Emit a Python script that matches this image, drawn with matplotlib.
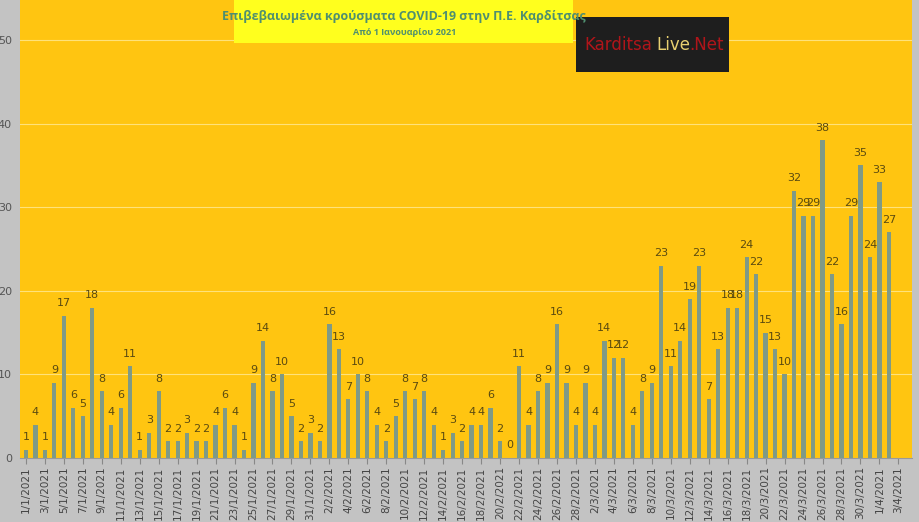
import matplotlib.pyplot as plt
import numpy as np
import pandas as pd

dates = pd.date_range('2021-01-01', '2021-04-03', freq='D')
labels = [f'{d.day}/{d.month}/{d.year}' for d in dates]

cases = [1, 4, 1, 9, 17, 6, 5, 18, 8, 4, 6, 11, 1, 3, 8, 2, 2, 3, 2, 2, 4, 6, 4, 1,
         9, 14, 8, 10, 5, 2, 3, 2, 16, 13, 7, 10, 8, 4, 2, 5, 8, 7, 8, 4, 1, 3,
         2, 4, 4, 6, 2, 0, 11, 4, 8, 9, 16, 9, 4, 9, 4, 14, 12, 12, 4, 8, 9, 23,
         11, 14, 19, 23, 7, 13, 18, 18, 24, 22, 15, 13, 10, 32, 29, 29, 38, 22, 16,
         29, 35, 24, 33, 27, np.nan]

fig = plt.figure(figsize=(9.19, 5.22), dpi=100)
fig.patch.set_facecolor('#c3c3c3')
ax = fig.add_axes([0.022, 0.1226, 0.970, 0.8774])
ax.set_facecolor('#ffc511')

x = np.arange(len(cases))
ax.bar(x, cases, width=0.45, color='#7f9a86', zorder=3)
for xi, v in zip(x, cases):
    if not np.isnan(v):
        ax.text(xi, v + 0.9, f'{int(v)}', ha='center', va='bottom', fontsize=8,
                color='#5a4a10', zorder=4)

ax.set_xlim(-0.6, 93.4)
ax.set_ylim(0, 54.8)
ax.set_yticks([0, 10, 20, 30, 40, 50])
ax.tick_params(axis='y', length=0, labelsize=8, colors='#555555', pad=6)
ax.grid(axis='y', color='#ffe27a', linewidth=0.8, zorder=1)
ax.set_xticks(x[::2])
ax.set_xticklabels(labels[::2], rotation=90, fontsize=7.5, color='#444444')
ax.tick_params(axis='x', length=4, color='#888888', pad=2)
for s in ['top', 'right', 'left']:
    ax.spines[s].set_visible(False)
ax.spines['bottom'].set_color('#999999')

# title box
fig.patches.append(plt.Rectangle((0.255, 0.918), 0.369, 0.082, transform=fig.transFigure,
                                 facecolor='#ffff1e', edgecolor='none', zorder=5))
fig.text(0.440, 0.968, 'Επιβεβαιωμένα κρούσματα COVID-19 στην Π.Ε. Καρδίτσας', ha='center',
         va='center', fontsize=9, fontweight='bold', color='#4f8f6f', zorder=6,
         family='Open Sans')
fig.text(0.440, 0.938, 'Από 1 Ιανουαρίου 2021', ha='center', va='center', fontsize=6.5,
         fontweight='bold', color='#4f8f6f', zorder=6, family='Open Sans')

# logo box
fig.patches.append(plt.Rectangle((0.627, 0.862), 0.166, 0.105, transform=fig.transFigure,
                                 facecolor='#1e1e1e', edgecolor='none', zorder=5))
fig.text(0.636, 0.913, 'Karditsa', ha='left', va='center', fontsize=12, color='#b0151a', zorder=6)
fig.text(0.714, 0.913, 'Live', ha='left', va='center', fontsize=12, color='#e8d070', zorder=6)
fig.text(0.750, 0.913, '.Net', ha='left', va='center', fontsize=12, color='#b0151a', zorder=6)

fig.savefig('out.png', dpi=100, facecolor=fig.get_facecolor())
